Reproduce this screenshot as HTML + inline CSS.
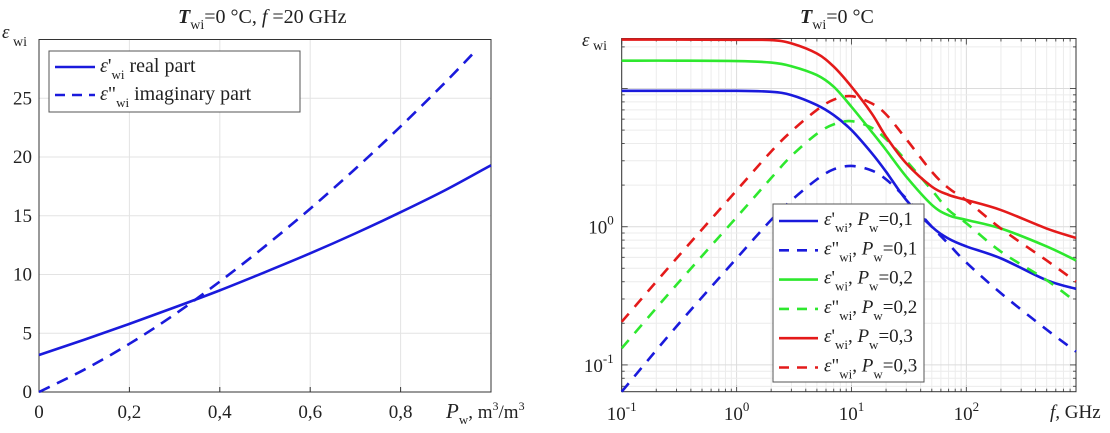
<!DOCTYPE html>
<html><head><meta charset="utf-8"><style>
body{margin:0;background:#fff;}
svg{display:block;font-family:"Liberation Serif",serif;}
</style></head><body>
<svg id="svg" width="1110" height="433" viewBox="0 0 1110 433">
<g id="left"></g>
<g id="right"></g>
</svg>
<script>
// ---- Left chart data ----
const leftX = [0,0.1,0.2,0.3,0.4,0.5,0.6,0.7,0.8,0.9,1.0];
const leftReal = [3.15,4.45,5.8,7.2,8.65,10.2,11.8,13.5,15.3,17.2,19.3];
const leftImagX = [0,0.1,0.2,0.3,0.4,0.5,0.6,0.7,0.8,0.9,0.97];
const leftImag = [0,1.9,4.1,6.6,9.4,12.4,15.6,19.0,22.6,26.4,29.2];
const leftXTicks = [0,0.2,0.4,0.6,0.8];
const leftXTickLabels = ["0","0,2","0,4","0,6","0,8"];
const leftYTicks = [0,5,10,15,20,25];
// ---- Right chart data ----
const freqs = [0.1,0.3,1,2,3,5,7,10,15,20,30,50,70,100,200,500,900];
const real01 = [9.62,9.62,9.62,9.46,8.96,7.59,6.42,5.00,3.41,2.50,1.56,1.00,0.82,0.72,0.59,0.41,0.355];
const imag01 = [0.064,0.19,0.59,1.12,1.55,2.2,2.6,2.75,2.55,2.2,1.6,1.0,0.75,0.55,0.33,0.18,0.125];
const real02 = [15.9,15.9,15.8,15.4,14.5,12.5,10.3,7.37,4.86,3.59,2.30,1.44,1.21,1.12,0.97,0.72,0.57];
const imag02 = [0.132,0.38,1.17,2.25,3.25,4.7,5.5,5.8,5.2,4.3,3.0,1.84,1.32,1.06,0.66,0.41,0.285];
const real03 = [22.6,22.6,22.5,22.4,21.2,17.9,14.4,10.3,6.6,4.48,2.87,1.95,1.70,1.56,1.32,0.97,0.83];
const imag03 = [0.205,0.59,1.83,3.5,4.9,7.0,8.3,8.8,7.8,6.5,4.3,2.5,1.9,1.55,0.97,0.57,0.40];
const rightXTicks = [0.1,1,10,100];
const rightXExp = ["-1","0","1","2"];
const rightYTicks = [0.1,1];
const rightYExp = ["-1","0"];

const NS="http://www.w3.org/2000/svg";
function mk(parent,tag,attrs,text){const e=document.createElementNS(NS,tag);for(const k in attrs)e.setAttribute(k,attrs[k]);if(text!==undefined)e.textContent=text;parent.appendChild(e);return e;}
function smoothPath(pts){
 let d='M'+pts[0][0]+','+pts[0][1];
 for(let i=0;i<pts.length-1;i++){
  const p0=pts[Math.max(0,i-1)],p1=pts[i],p2=pts[i+1],p3=pts[Math.min(pts.length-1,i+2)];
  const c1x=p1[0]+(p2[0]-p0[0])/6,c1y=p1[1]+(p2[1]-p0[1])/6;
  const c2x=p2[0]-(p3[0]-p1[0])/6,c2y=p2[1]-(p3[1]-p1[1])/6;
  d+=' C'+c1x+','+c1y+' '+c2x+','+c2y+' '+p2[0]+','+p2[1];
 }
 return d;
}

// ===== LEFT =====
const L=document.getElementById('left');
const lx0=39,lx1=491,ly0=392,ly1=39.5;
const lxs=v=>lx0+(v-0)/(1-0)*(lx1-lx0);
const lys=v=>ly0-(v/30)*(ly0-ly1);
for(let v=0.2;v<1;v+=0.2){const g=mk(L,'line',{x1:lxs(v),x2:lxs(v),y1:ly1,y2:ly0,stroke:'#e3e3e3','stroke-width':1});

}
for(let v=5;v<30;v+=5){const g=mk(L,'line',{x1:lx0,x2:lx1,y1:lys(v),y2:lys(v),stroke:'#e3e3e3','stroke-width':1});

}
const lframe=mk(L,'rect',{x:lx0,y:ly1,width:lx1-lx0,height:ly0-ly1,fill:'none',stroke:'#333','stroke-width':1});


leftXTicks.forEach((v,i)=>{
 const t=mk(L,'text',{x:lxs(v),y:418,'font-size':19,'text-anchor':'middle',fill:'#222'},leftXTickLabels[i]);
 
 
 mk(L,'line',{x1:lxs(v),x2:lxs(v),y1:ly0,y2:ly0-5,stroke:'#333'});
});
leftYTicks.forEach(v=>{
 const t=mk(L,'text',{x:lx0-7,y:lys(v)+6,'font-size':19,'text-anchor':'end',fill:'#222'},String(v));
 
 
});
function polyL(xs,ys,dash,name){
 const p=mk(L,'path',{d:smoothPath(xs.map((x,i)=>[lxs(x),lys(ys[i])])),fill:'none',stroke:'#1a1adc','stroke-width':2.6,'stroke-dasharray':dash||'none'});
 
 
}
polyL(leftX,leftReal,null,'real-part-line');
polyL(leftImagX,leftImag,'12,8','imaginary-part-line');
</script>
<script>
(function(){
const L=document.getElementById('left');
L.insertAdjacentHTML('beforeend',`
<text x="178" y="23" font-size="20" fill="#222"><tspan font-weight="bold" font-style="italic">T</tspan><tspan font-size="14" dy="6">wi</tspan><tspan dy="-6">=0 °C,  </tspan><tspan font-style="italic">f</tspan><tspan> =20 GHz</tspan></text>
<text x="2" y="38" font-size="19" fill="#222"><tspan font-style="italic">ε</tspan><tspan font-size="14" dy="8"> wi</tspan></text>
<text x="446" y="418" font-size="19" fill="#222"><tspan font-style="italic" font-size="21">P</tspan><tspan font-size="13" dy="6">w</tspan><tspan dy="-6">, m</tspan><tspan font-size="12" dy="-8">3</tspan><tspan dy="8">/m</tspan><tspan font-size="12" dy="-8">3</tspan></text>
<g>
<rect x="49" y="51" width="251" height="61" fill="#fff" stroke="#555" stroke-width="1"/>
<line x1="55" x2="95" y1="67" y2="67" stroke="#1a1adc" stroke-width="2.6"/>
<line x1="55" x2="95" y1="95" y2="95" stroke="#1a1adc" stroke-width="2.6" stroke-dasharray="10,7"/>
<text x="100" y="72" font-size="20" fill="#222"><tspan font-style="italic">ε</tspan>'<tspan font-size="13" dy="7">wi</tspan><tspan dy="-7">  real part</tspan></text>
<text x="100" y="100" font-size="20" fill="#222"><tspan font-style="italic">ε</tspan>"<tspan font-size="13" dy="7">wi</tspan><tspan dy="-7"> imaginary part</tspan></text>
</g>`);
})();
</script>
<script>
(function(){
const R=document.getElementById('right');
const rx0=621.7,rx1=1076,ry0=391.7,ry1=38.5;
const xmin=Math.log10(0.1),xmax=Math.log10(900);
const ymin=Math.log10(0.064),ymax=Math.log10(23);
const rxs=v=>rx0+(Math.log10(v)-xmin)/(xmax-xmin)*(rx1-rx0);
const rys=v=>ry0-(Math.log10(v)-ymin)/(ymax-ymin)*(ry0-ry1);
for(let d=-1;d<=2;d++)for(let m=1;m<=9;m++){const v=m*Math.pow(10,d);if(v<0.1||v>900)continue;
 const g=mk(R,'line',{x1:rxs(v),x2:rxs(v),y1:ry1,y2:ry0,stroke:m===1?'#dcdcdc':'#ececec','stroke-width':1});
 
 
 mk(R,'line',{x1:rxs(v),x2:rxs(v),y1:ry0,y2:ry0-(m===1?6:3),stroke:'#555'});
 mk(R,'line',{x1:rxs(v),x2:rxs(v),y1:ry1,y2:ry1+(m===1?6:3),stroke:'#555'});
}
for(let d=-2;d<=1;d++)for(let m=1;m<=9;m++){const v=m*Math.pow(10,d);if(v<0.064||v>23)continue;
 const g=mk(R,'line',{x1:rx0,x2:rx1,y1:rys(v),y2:rys(v),stroke:m===1?'#dcdcdc':'#ececec','stroke-width':1});
 
 
 mk(R,'line',{x1:rx0,x2:rx0+(m===1?6:3),y1:rys(v),y2:rys(v),stroke:'#555'});
 mk(R,'line',{x1:rx1,x2:rx1-(m===1?6:3),y1:rys(v),y2:rys(v),stroke:'#555'});
}
const fr=mk(R,'rect',{x:rx0,y:ry1,width:rx1-rx0,height:ry0-ry1,fill:'none',stroke:'#333','stroke-width':1});


rightXTicks.forEach((v,i)=>{
 const t=mk(R,'text',{x:rxs(v),y:420,'font-size':19,'text-anchor':'middle',fill:'#222'});
 
 
 mk(t,'tspan',{},'10');mk(t,'tspan',{'font-size':13,dy:-9},rightXExp[i]);
});
rightYTicks.forEach((v,i)=>{
 const t=mk(R,'text',{x:rx0-8,y:rys(v)+7,'font-size':19,'text-anchor':'end',fill:'#222'});
 
 
 mk(t,'tspan',{},'10');mk(t,'tspan',{'font-size':13,dy:-9},rightYExp[i]);
});
const series=[[real01,'#1a1adc',null,'real-p01-line'],[imag01,'#1a1adc','11,9','imag-p01-line'],
 [real02,'#2ee82e',null,'real-p02-line'],[imag02,'#2ee82e','11,9','imag-p02-line'],
 [real03,'#e41a1a',null,'real-p03-line'],[imag03,'#e41a1a','11,9','imag-p03-line']];
series.forEach(s=>{
 const p=mk(R,'path',{d:smoothPath(freqs.map((f,i)=>[rxs(f),rys(s[0][i])])),fill:'none',stroke:s[1],'stroke-width':2.6,'stroke-dasharray':s[2]||'none','stroke-linejoin':'round'});
 
 
});
R.insertAdjacentHTML('beforeend',`
<text x="800" y="23" font-size="20" fill="#222"><tspan font-weight="bold" font-style="italic">T</tspan><tspan font-size="14" dy="6">wi</tspan><tspan dy="-6">=0 °C</tspan></text>
<text x="582" y="46" font-size="19" fill="#222"><tspan font-style="italic">ε</tspan><tspan font-size="14" dy="4"> wi</tspan></text>
<text x="1050" y="418" font-size="19" fill="#222"><tspan font-style="italic">f,</tspan> GHz</text>`);
const lg=mk(R,'g',{});


mk(lg,'rect',{x:773,y:204,width:151,height:178,fill:'#fff',stroke:'#555','stroke-width':1});
const labs=[["'","0,1"],['"',"0,1"],["'","0,2"],['"',"0,2"],["'","0,3"],['"',"0,3"]];
series.forEach((s,i)=>{
 const y=221+i*29.3;
 const l=mk(lg,'line',{x1:779,x2:818,y1:y,y2:y,stroke:s[1],'stroke-width':2.6,'stroke-dasharray':s[2]?'10,8':'none'});
 
 
 const t=mk(lg,'text',{x:824,y:y+4,'font-size':19,fill:'#222'});
 
 
 mk(t,'tspan',{'font-style':'italic'},'ε');mk(t,'tspan',{},labs[i][0]);
 mk(t,'tspan',{'font-size':13,dy:7},'wi');mk(t,'tspan',{dy:-7},', ');
 mk(t,'tspan',{'font-style':'italic'},'P');mk(t,'tspan',{'font-size':13,dy:7},'w');
 mk(t,'tspan',{dy:-7},'='+labs[i][1]);
});
})();
</script>
</body></html>
